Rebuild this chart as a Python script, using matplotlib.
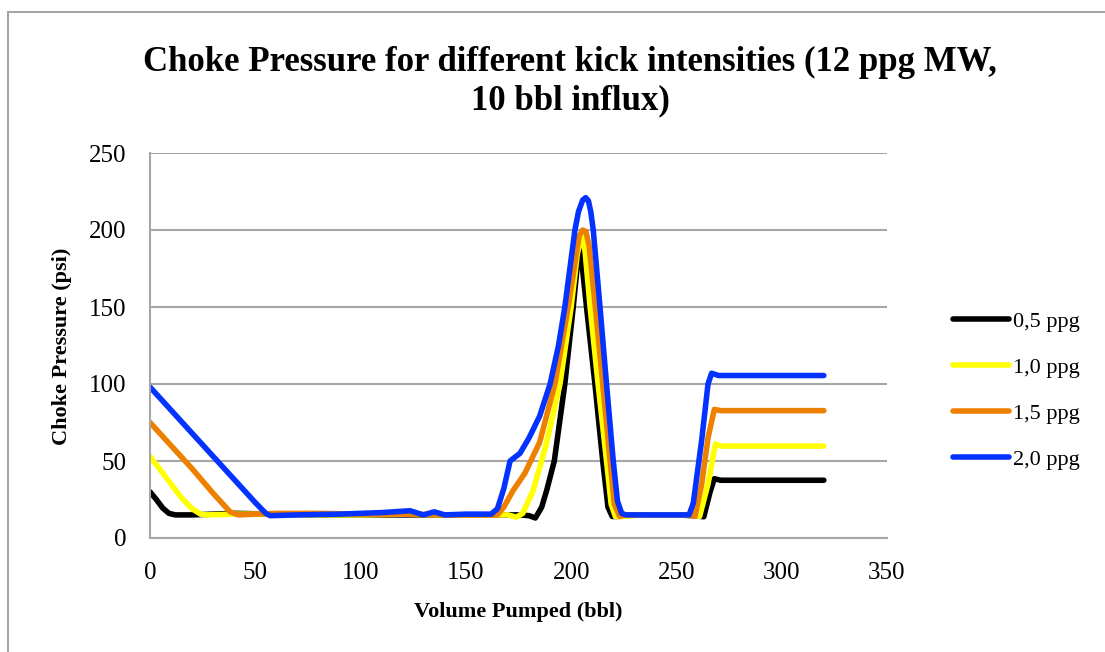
import matplotlib.pyplot as plt
from matplotlib.patches import Rectangle

# === Data ===
x_05 = [0, 3, 6, 9, 12, 20, 40, 60, 80, 100, 120, 140, 160, 175, 180, 183, 186,
        188.4, 192, 197, 201, 203, 204, 205, 207.3, 211.3, 215, 217.5, 219.5,
        222, 230, 240, 250, 258, 263, 266, 268, 271, 280, 300, 320]
y_05 = [30, 25, 19.5, 16, 15, 15, 16, 15.5, 15, 15, 15, 15, 15, 15, 14.5, 13, 20,
        31, 50, 100, 150, 178, 187, 180, 150, 100, 50, 20, 14, 14, 15, 15, 15,
        14.5, 13.8, 30, 38.5, 37.5, 37.5, 37.5, 37.5]

x_10 = [0, 5, 10, 15, 20, 24, 27, 40, 60, 80, 100, 120, 140, 160, 170, 174, 177,
        182, 188, 194.7, 200, 203, 205, 206.5, 209, 212.8, 216.8, 219, 221,
        224, 235, 250, 258, 261, 265, 268.5, 271, 280, 300, 320]
y_10 = [53, 44, 35, 26, 19, 15.5, 15, 15.5, 15.5, 15, 15, 15.5, 15, 15, 15, 13.5,
        16, 31, 60, 100, 150, 185, 195.5, 188, 150, 100, 50, 22, 14, 14, 15, 15,
        15, 14, 35, 61, 59.7, 59.7, 59.7, 59.7]

x_15 = [0, 10, 20, 30, 38, 42, 50, 60, 80, 100, 120, 140, 160, 165, 168, 172.5,
        178, 185, 192.3, 198.6, 203.8, 205.5, 207, 208.5, 211.5, 215, 218.5,
        220.5, 223, 226, 235, 250, 256, 258.8, 262, 265, 268, 271, 280, 300, 320]
y_15 = [75, 60, 45, 29, 17, 15, 15.5, 16, 16, 15.5, 15.5, 15, 15, 15, 20, 31, 42,
        62, 100, 150, 196, 200, 199, 190, 150, 100, 50, 22, 14, 15, 15, 15, 15,
        14, 35, 65, 83.5, 82.7, 82.7, 82.7, 82.7]

x_20 = [0, 10, 20, 30, 40, 50, 55, 57, 70, 90, 110, 123.5, 129.8, 135, 140, 150,
        162, 165, 168, 171, 175.7, 180, 185, 190, 194, 197, 201.8, 203.5, 205.5,
        206.9, 208.2, 209.3, 210.5, 213.7, 216.8, 220, 222, 224, 226, 240, 250,
        256, 258, 262, 265, 266.7, 270, 280, 300, 320]
y_20 = [98, 83, 68, 53, 38, 23, 16, 14.5, 15, 15.5, 16.5, 17.7, 15, 17, 15, 15.5,
        15.5, 19, 32, 50, 55, 65, 79, 100, 125, 150, 200, 212, 219.5, 221, 219,
        212, 200, 150, 100, 50, 24, 16, 15, 15, 15, 15, 22.6, 63.6, 100, 107,
        105.5, 105.5, 105.5, 105.5]

series = [
    ("0,5 ppg", x_05, y_05, "#000000"),
    ("1,0 ppg", x_10, y_10, "#FFFF00"),
    ("1,5 ppg", x_15, y_15, "#EE8000"),
    ("2,0 ppg", x_20, y_20, "#0433FF"),
]

x_ticks = [0, 50, 100, 150, 200, 250, 300, 350]
y_ticks = [0, 50, 100, 150, 200, 250]

plt.rcParams['font.family'] = ['Liberation Serif', 'DejaVu Serif']

W, H = 1105, 652
fig = plt.figure(figsize=(W / 100, H / 100), dpi=100)
fig.patch.set_facecolor("white")

# outer chart border (only left and top edges fall inside the image)
fig.patches.append(Rectangle((8 / W, -0.1), 1.2, 1.1 - 12 / H,
                             transform=fig.transFigure, fill=False,
                             edgecolor="#A6A6A6", lw=1.5))

ax = fig.add_axes([150 / W, (H - 538) / H, 737 / W, 385 / H])

for label, xs, ys, color in series:
    ax.plot(xs, ys, color=color, lw=4, label=label,
            solid_joinstyle="round", solid_capstyle="round")

ax.set_xlim(0, 350)
ax.set_ylim(0, 250)
ax.set_xticks(x_ticks)
ax.set_yticks(y_ticks)
ax.tick_params(length=0, labelsize=18, pad=17)
ax.grid(axis="y", color="#A6A6A6", lw=1.5)
ax.set_axisbelow(True)
for side in ["top", "right"]:
    ax.spines[side].set_visible(False)
for side in ["left", "bottom"]:
    ax.spines[side].set_color("#A6A6A6")
    ax.spines[side].set_linewidth(1.5)

fig.text(518 / W, 1 - 612 / H, "Volume Pumped (bbl)", fontsize=16,
         fontweight="bold", ha="center", va="center")
fig.text(62 / W, 1 - 346 / H, "Choke Pressure (psi)", fontsize=16,
         fontweight="bold", ha="center", va="center", rotation=90)

fig.text(570 / W, 1 - 46 / H,
         "Choke Pressure for different kick intensities (12 ppg MW,\n10 bbl influx)",
         fontsize=25, fontweight="bold", ha="center", va="top", linespacing=1.2)

ax.legend(loc="center left", bbox_to_anchor=(953 / W, 1 - 390.5 / H),
          bbox_transform=fig.transFigure, frameon=False, fontsize=16,
          handlelength=2.5, handletextpad=0.2, labelspacing=1.15,
          borderpad=0, borderaxespad=0)

fig.savefig("out.png", dpi=100)
